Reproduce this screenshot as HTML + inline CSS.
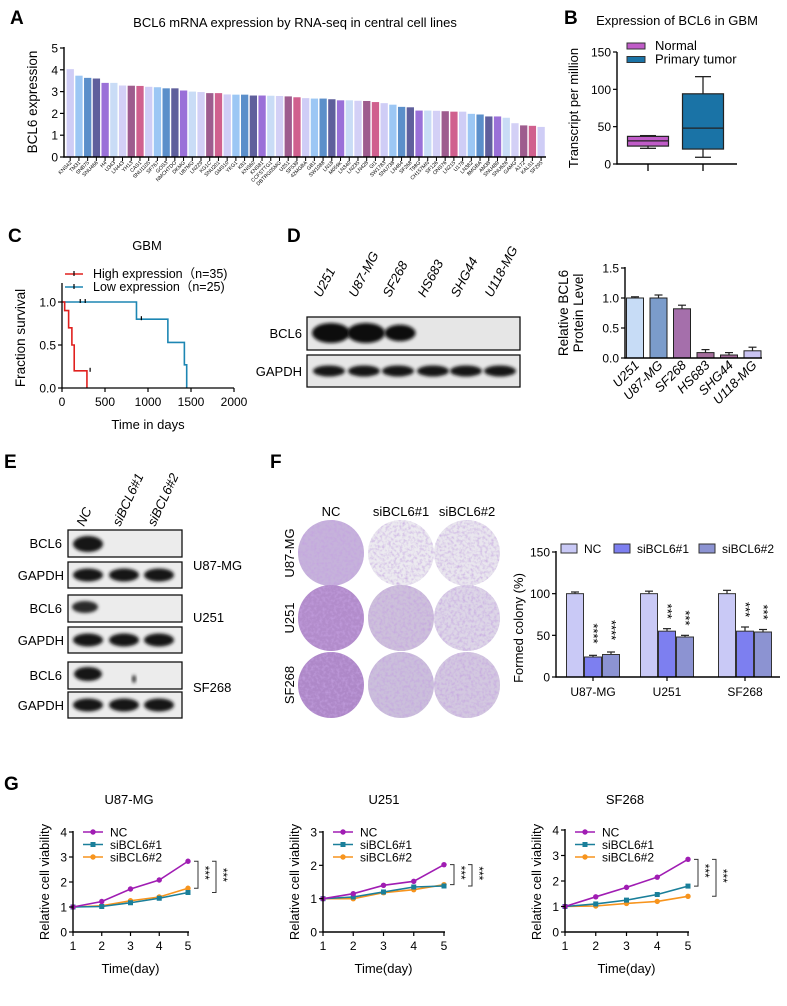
<!DOCTYPE html>
<html><head><meta charset="utf-8"><style>
body{margin:0;background:#fff}
svg{display:block;font-family:"Liberation Sans",Arial,sans-serif}
</style></head><body>
<svg id="fig" width="787" height="1006" viewBox="0 0 787 1006" xmlns="http://www.w3.org/2000/svg">
<defs>
<filter id="blur1" x="-30%" y="-50%" width="160%" height="200%"><feGaussianBlur stdDeviation="1.6"/></filter>
<filter id="tex" x="0" y="0" width="100%" height="100%"><feTurbulence type="fractalNoise" baseFrequency="0.35" numOctaves="2" seed="3" result="n"/><feColorMatrix in="n" type="matrix" values="0 0 0 0 0.55  0 0 0 0 0.35  0 0 0 0 0.75  0 0 0 1.6 -0.65" result="c"/><feComposite in="c" in2="SourceGraphic" operator="in" result="cc"/><feMerge><feMergeNode in="SourceGraphic"/><feMergeNode in="cc"/></feMerge></filter>
</defs>
<g font-weight="bold" font-size="19">
<text x="10" y="24">A</text>
<text x="564" y="24">B</text>
<text x="8" y="242">C</text>
<text x="287" y="242">D</text>
<text x="4" y="468">E</text>
<text x="270" y="468">F</text>
<text x="4" y="790">G</text>
</g>
<text x="295" y="27" font-size="13" text-anchor="middle">BCL6 mRNA  expression by RNA-seq in central cell lines</text>
<text x="677" y="25" font-size="13" text-anchor="middle">Expression of BCL6 in GBM</text>
<text x="147" y="250" font-size="13" text-anchor="middle">GBM</text>
</svg>
<script>
const NS="http://www.w3.org/2000/svg";
const svg=document.getElementById('fig');
function mk(tag,a,p){const e=document.createElementNS(NS,tag);for(const k in a)e.setAttribute(k,a[k]);(p||svg).appendChild(e);return e;}
function tx(x,y,s,size,anchor,extra,p){const a=Object.assign({x:x,y:y,'font-size':size,'text-anchor':anchor||'start'},extra||{});const e=mk('text',a,p);e.textContent=s;return e;}
function ln(x1,y1,x2,y2,w,c,p){return mk('line',{x1:x1,y1:y1,x2:x2,y2:y2,stroke:c||'#000','stroke-width':w||1.3},p);}

/* ---------- Panel A data ---------- */
const aCats=["KNS42","TM31","SNB75","SNU466","H4","U343","LN443","YH13","CAS1","SNU1105","SF767","GOS3","NMCHTDO","DKMG","U87MG","LN229","KG1C","SNU201","GMS10","YKG1","K81","KNS60","KNS81","CCFSTTG1","DBTRG05MG","U251","SF539","42MGBA","GB1","SW1088","LN18","M059K","LN340","LN235","LN428","GI1","SW1783","SNU738","LN464","SF268","T98G","CH157MN","SF126","ONS76","LN215","U178","LN382","8MGBA","AM38","SNU489","SNU626","GAMG","A172","KALS1","SF295"];
const aVals=[4.03,3.73,3.63,3.6,3.4,3.4,3.28,3.27,3.26,3.22,3.2,3.15,3.15,3.05,3.0,2.98,2.93,2.93,2.87,2.86,2.86,2.82,2.82,2.81,2.8,2.78,2.74,2.7,2.68,2.68,2.65,2.6,2.6,2.58,2.57,2.52,2.47,2.4,2.3,2.28,2.13,2.13,2.12,2.1,2.08,2.08,1.98,1.95,1.86,1.86,1.8,1.55,1.45,1.43,1.38];
const aTicks=[0,1,2,3,4,5];
/* ---------- Panel B data ---------- */
const bGroups=["Normal","Primary tumor"];
const bMin=[21,9],bQ1=[24,20],bMed=[31,48],bQ3=[37,94],bMax=[38,117];
const bTicks=[0,50,100,150];
/* ---------- Panel C data ---------- */
const cHighT=[0,31,77,115,142,290],cHighS=[1,0.9,0.7,0.5,0.2,0];
const cLowT=[0,866,1231,1423,1450],cLowS=[1,0.8,0.53,0.27,0];
const cHighCensorT=[327],cHighCensorS=[0.2];
const cLowCensorT=[212,270,923],cLowCensorS=[1,1,0.8];
const cXTicks=[0,500,1000,1500,2000],cYTicks=[0,0.5,1.0];
/* ---------- Panel D data ---------- */
const dCats=["U251","U87-MG","SF268","HS683","SHG44","U118-MG"];
const dVals=[1.0,1.0,0.82,0.09,0.05,0.12];
const dErr=[0.02,0.05,0.06,0.05,0.04,0.06];
const dTicks=[0,0.5,1.0,1.5];
const dBcl6=[1,1,0.8,0,0,0];
/* ---------- Panel F data ---------- */
const fGroups=["U87-MG","U251","SF268"];
const fNC=[100,100,100],fSi1=[24,55,55],fSi2=[27,48,54];
const fNCerr=[2,3,4],fSi1err=[2,3,5],fSi2err=[3,2,3];
const fSig1=["****","***","***"],fSig2=["****","***","***"];
const fTicks=[0,50,100,150];
/* ---------- Panel G data ---------- */
const gDays=[1,2,3,4,5];
const gU87NC=[1,1.22,1.72,2.08,2.83],gU87S1=[1,1.02,1.17,1.35,1.58],gU87S2=[1,1.05,1.25,1.4,1.75];
const gU251NC=[1,1.15,1.4,1.52,2.02],gU251S1=[1,1.05,1.2,1.35,1.38],gU251S2=[1,1.0,1.18,1.27,1.42];
const gSFNC=[1,1.38,1.75,2.15,2.85],gSFS1=[1,1.1,1.25,1.47,1.8],gSFS2=[1,1.02,1.12,1.2,1.4];

/* ===== Panel A ===== */
(function(){
const g=mk('g',{});


const cols=['#cfcdf6','#9cc7f4','#5b8fca','#5f5f9c','#9a70d8','#c9dcf6','#d3d0f6','#9e5c8e','#d0608e'];
const y=v=>157-v*21.8, x=i=>66+i*8.72;
aVals.forEach((v,i)=>{const r=mk('rect',{x:x(i)+0.6,y:y(v),width:7.3,height:157-y(v),fill:cols[i%9]},g);


ln(x(i)+4.2,157,x(i)+4.2,161,1,'#000',g);
const t=tx(x(i)+6,163,aCats[i],5.2,'end',{transform:`rotate(-45 ${x(i)+6} 163)`},g);

});
ln(64,47,64,157.6,1.4,'#000',g);ln(63.3,157,546,157,1.4,'#000',g);
aTicks.forEach(t=>{ln(60,y(t),64,y(t),1.2,'#000',g);const l=tx(58,y(t)+4.5,String(t),12,'end',{},g);

});
const yl=tx(37,102,'BCL6 expression',13.5,'middle',{transform:'rotate(-90 37 102)'},g);


})();

/* ===== Panel B ===== */
(function(){
const g=mk('g',{});


const y=v=>164-v*(112/150);const cx=[648,703];const fills=['#c05cc8','#1a73a6'];
bGroups.forEach((n,i)=>{const w=41,c=cx[i];
ln(c,y(bMax[i]),c,y(bQ3[i]),1.3,'#222',g);ln(c,y(bQ1[i]),c,y(bMin[i]),1.3,'#222',g);
ln(c-8,y(bMax[i]),c+8,y(bMax[i]),1.3,'#222',g);ln(c-8,y(bMin[i]),c+8,y(bMin[i]),1.3,'#222',g);
const b=mk('rect',{x:c-w/2,y:y(bQ3[i]),width:w,height:y(bQ1[i])-y(bQ3[i]),fill:fills[i],stroke:'#222','stroke-width':1.2},g);


ln(c-w/2,y(bMed[i]),c+w/2,y(bMed[i]),1.3,'#222',g);
ln(c,164,c,171,1.3,'#000',g);
const lb=mk('rect',{x:627,y:43+i*13.5,width:18,height:6,fill:fills[i],stroke:'#333','stroke-width':1},g);


const lt=tx(655,50+i*13.5,n,13,'start',{},g);

});
ln(617,52,617,164.6,1.4,'#000',g);ln(616.4,164,737,164,1.4,'#000',g);
bTicks.forEach(t=>{ln(613,y(t),617,y(t),1.2,'#000',g);const l=tx(611,y(t)+4.5,String(t),12,'end',{},g);

});
const yl=tx(578,108,'Transcript per million',13,'middle',{transform:'rotate(-90 578 108)'},g);


})();

/* ===== Panel C ===== */
(function(){
const g=mk('g',{});


const x=t=>62+t*(172/2000), y=s=>388-s*86;
function step(T,S,col,name){let d=`M${x(T[0])},${y(S[0])}`;for(let i=1;i<T.length;i++)d+=` H${x(T[i])} V${y(S[i])}`;
const p=mk('path',{d:d,fill:'none',stroke:col,'stroke-width':1.6},g);

}
step(cLowT,cLowS,'#1d86b3','low-expression-curve');
step(cHighT,cHighS,'#e0201e','high-expression-curve');
cLowCensorT.forEach((t,i)=>ln(x(t),y(cLowCensorS[i])-3,x(t),y(cLowCensorS[i])+1,1.2,'#000',g));
cHighCensorT.forEach((t,i)=>ln(x(t),y(cHighCensorS[i])-3,x(t),y(cHighCensorS[i])+1,1.2,'#000',g));
ln(62,283,62,388.6,1.3,'#000',g);ln(61.4,388,234,388,1.3,'#000',g);
cYTicks.forEach(s=>{ln(58,y(s),62,y(s),1.2,'#000',g);const l=tx(56,y(s)+4.5,s.toFixed(1),12,'end',{},g);

});
cXTicks.forEach(t=>{ln(x(t),388,x(t),392,1.2,'#000',g);const l=tx(x(t),406,String(t),12,'middle',{},g);

});
const xl=tx(148,429,'Time in days',13,'middle',{},g);


const yl=tx(25,338,'Fraction survival',13.5,'middle',{transform:'rotate(-90 25 338)'},g);


[['High expression（n=35)','#e0201e'],['Low expression（n=25)','#1d86b3']].forEach((L,i)=>{const yy=274+i*13;
ln(65,yy,83,yy,1.6,L[1],g);ln(74,yy-3,74,yy+2,1.2,'#000',g);
const t=tx(93,yy+4,L[0],12.5,'start',{},g);

});
})();

/* ===== Panel D blot + bar ===== */
(function(){
const g=mk('g',{});


const lanes=[329,364,398,433,466,500];
const b1=mk('rect',{x:307,y:317,width:213,height:33,fill:'#e6e6e6',stroke:'#111','stroke-width':1.3},g);


const b2=mk('rect',{x:307,y:355,width:213,height:32,fill:'#e6e6e6',stroke:'#111','stroke-width':1.3},g);


dBcl6.forEach((v,i)=>{if(v>0){const e=mk('ellipse',{cx:lanes[i]+2,cy:333,rx:17*v+2,ry:9*v+1,fill:'#111',filter:'url(#blur1)'},g);

}});
lanes.forEach((c,i)=>{const e=mk('ellipse',{cx:c,cy:371,rx:16,ry:5.5,fill:'#141414',filter:'url(#blur1)'},g);


const t=tx(c-8,298,dCats[i],13,'start',{'font-style':'italic',transform:`rotate(-62 ${c-8} 298)`},g);

});
tx(302,338,'BCL6',13,'end',{},g);tx(302,376,'GAPDH',13,'end',{},g);

const h=mk('g',{});


const y=v=>358-v*60, x=i=>635+i*23.5;
const cols=['#c7dcf6','#7b9ccb','#a56fab','#a56e9c','#a56e9c','#c9c3f2'];
dVals.forEach((v,i)=>{ln(x(i),y(v),x(i),y(v+dErr[i]),1.2,'#222',h);ln(x(i)-4,y(v+dErr[i]),x(i)+4,y(v+dErr[i]),1.2,'#222',h);
const r=mk('rect',{x:x(i)-8.5,y:y(v),width:17,height:358-y(v),fill:cols[i],stroke:'#222','stroke-width':1},h);


const t=tx(x(i)+5,366,dCats[i],13,'end',{'font-style':'italic',transform:`rotate(-45 ${x(i)+5} 366)`},h);

});
ln(625,267,625,358.6,1.4,'#000',h);ln(624.4,358,762,358,1.4,'#000',h);
dTicks.forEach(t=>{ln(621,y(t),625,y(t),1.2,'#000',h);const l=tx(619,y(t)+4.5,t.toFixed(1),12,'end',{},h);

});
const y1=tx(568,313,'Relative BCL6',13.5,'middle',{transform:'rotate(-90 568 313)'},h);


tx(583,313,'Protein Level',13.5,'middle',{transform:'rotate(-90 583 313)'},h);
})();

/* ===== Panel E ===== */
(function(){
const g=mk('g',{});


const lanes=[88,124,159];
[['NC',88],['siBCL6#1',124],['siBCL6#2',159]].forEach(L=>{const t=tx(L[1]-4,527,L[0],13,'start',{'font-style':'italic',transform:`rotate(-65 ${L[1]-4} 527)`},g);

});
const rows=[[530,562,'U87-MG',570],[595,627,'U251',622],[662,692,'SF268',692]];
rows.forEach(r=>{const a=mk('rect',{x:68,y:r[0],width:114,height:27,fill:'#ececec',stroke:'#111','stroke-width':1.3},g);


const b=mk('rect',{x:68,y:r[1],width:114,height:26,fill:'#ececec',stroke:'#111','stroke-width':1.3},g);


lanes.forEach(c=>mk('ellipse',{cx:c,cy:r[1]+13,rx:15,ry:6.5,fill:'#141414',filter:'url(#blur1)'},g));
tx(62,r[0]+18,'BCL6',13,'end',{},g);tx(64,r[1]+18,'GAPDH',13,'end',{},g);
const l=tx(193,r[3],r[2],13,'start',{},g);

});
mk('ellipse',{cx:88,cy:544,rx:15,ry:8,fill:'#151515',filter:'url(#blur1)'},g);
mk('ellipse',{cx:85,cy:607,rx:13,ry:6,fill:'#2a2a2a',filter:'url(#blur1)'},g);
mk('ellipse',{cx:88,cy:674,rx:14,ry:7,fill:'#151515',filter:'url(#blur1)'},g);
mk('ellipse',{cx:134,cy:679,rx:2,ry:4,fill:'#333',filter:'url(#blur1)'},g);
})();

/* ===== Panel F ===== */
(function(){
const g=mk('g',{});


const cx=[331,401,467],cy=[553,618,685];
const fills=[['#c6b2db','#eceaf0','#e9e6ee'],['#b28ccb','#cdc0db','#ddd6e7'],['#ae88c8','#cbbfdb','#d3c8e0']];
cy.forEach((y,r)=>cx.forEach((x,c)=>{const p=mk('ellipse',{cx:x,cy:y,rx:33,ry:33,fill:fills[r][c],filter:'url(#tex)'},g);

}));
[['NC',331],['siBCL6#1',401],['siBCL6#2',467]].forEach(L=>tx(L[1],516,L[0],13,'middle',{},g));
[['U87-MG',553],['U251',618],['SF268',685]].forEach(L=>{const t=tx(294,L[1],L[0],13,'middle',{transform:`rotate(-90 294 ${L[1]})`},g);

});

const h=mk('g',{});


const y=v=>677-v*(125/150);const gx=[593,667,745];
const series=[[fNC,fNCerr,'#c9c9f6',-18,null],[fSi1,fSi1err,'#7d7ff0',0,fSig1],[fSi2,fSi2err,'#8c93d2',18,fSig2]];
fGroups.forEach((gn,i)=>{series.forEach((s,k)=>{const xc=gx[i]+s[3],v=s[0][i],e=s[1][i];
ln(xc,y(v),xc,y(v+e),1.2,'#222',h);ln(xc-4,y(v+e),xc+4,y(v+e),1.2,'#222',h);
const r=mk('rect',{x:xc-8.5,y:y(v),width:17,height:677-y(v),fill:s[2],stroke:'#333','stroke-width':1},h);


if(s[4]){const t=tx(xc-4,y(v+e)-4,s[4][i],13,'start',{transform:`rotate(90 ${xc-4} ${y(v+e)-4})`},h);


t.setAttribute('transform',`rotate(90 ${xc-4} ${y(v+e)-4}) translate(${-(s[4][i].length*7)} 0)`);}});
ln(gx[i],677,gx[i],681,1.2,'#000',h);
const l=tx(gx[i],696,gn,12,'middle',{},h);

});
ln(556,551,556,677.6,1.4,'#000',h);ln(555.4,677,780,677,1.4,'#000',h);
fTicks.forEach(t=>{ln(552,y(t),556,y(t),1.2,'#000',h);const l=tx(550,y(t)+4.5,String(t),12,'end',{},h);

});
const yl=tx(523,628,'Formed colony (%)',13,'middle',{transform:'rotate(-90 523 628)'},h);


[['NC',561,'#c9c9f6'],['siBCL6#1',614,'#7d7ff0'],['siBCL6#2',699,'#8c93d2']].forEach(L=>{mk('rect',{x:L[1],y:544,width:16,height:9,fill:L[2],stroke:'#333','stroke-width':1},h);
const t=tx(L[1]+23,553,L[0],12,'start',{},h);

});
})();

/* ===== Panel G ===== */
function gChart(name,title,x0,x5,yTop,ymax,nc,s1,s2,titleX){
const g=mk('g',{});


const y0=932, y=v=>y0-v*(y0-yTop)/ymax, x=d=>x0+(d-1)*(x5-x0)/4;
const t=tx(titleX,804,title,13,'middle',{},g);


const ser=[[s2,'#f7941d','siBCL6#2','tri'],[s1,'#1a7f9a','siBCL6#1','sq'],[nc,'#a01db3','NC','dot']];
ser.forEach(s=>{const pts=gDays.map((d,i)=>x(d)+','+y(s[0][i])).join(' ');
const p=mk('polyline',{points:pts,fill:'none',stroke:s[1],'stroke-width':1.6},g);


gDays.forEach((d,i)=>{const m=s[3]==='sq'?mk('rect',{x:x(d)-2.5,y:y(s[0][i])-2.5,width:5,height:5,fill:s[1]},g):mk('circle',{cx:x(d),cy:y(s[0][i]),r:2.7,fill:s[1]},g);

});});
ln(x0,yTop-1,x0,y0+0.6,1.4,'#000',g);ln(x0-0.6,y0,x5+1,y0,1.4,'#000',g);
for(let v=0;v<=ymax;v++){ln(x0-4,y(v),x0,y(v),1.2,'#000',g);const l=tx(x0-6,y(v)+4.5,String(v),12,'end',{},g);

}
gDays.forEach(d=>{ln(x(d),y0,x(d),y0+4,1.2,'#000',g);const l=tx(x(d),y0+18,String(d),12,'middle',{},g);

});
const xl=tx((x0+x5)/2,y0+41,'Time(day)',13,'middle',{},g);


const yl=tx(x0-24,882,'Relative cell viability',13,'middle',{transform:`rotate(-90 ${x0-24} 882)`},g);


[['NC','#a01db3','dot'],['siBCL6#1','#1a7f9a','sq'],['siBCL6#2','#f7941d','tri']].forEach((L,i)=>{const yy=832+i*12.5,lx=x0+10;
ln(lx,yy,lx+20,yy,1.6,L[1],g);
if(L[2]==='sq')mk('rect',{x:lx+7.5,y:yy-2.5,width:5,height:5,fill:L[1]},g);else mk('circle',{cx:lx+10,cy:yy,r:2.7,fill:L[1]},g);
const t=tx(lx+27,yy+4.5,L[0],12,'start',{},g);

});
const yN=y(nc[4]),yA=y(Math.max(s1[4],s2[4])),yB=y(Math.min(s1[4],s2[4]));
const bx=x5+6;
mk('path',{d:`M${bx},${yN} H${bx+4} V${yA} H${bx}`,fill:'none',stroke:'#333','stroke-width':1},g);
mk('path',{d:`M${bx+18},${yN} H${bx+22} V${yB} H${bx+18}`,fill:'none',stroke:'#333','stroke-width':1},g);
const s1t=tx(bx+7,(yN+yA)/2-9,'***',12,'start',{transform:`rotate(90 ${bx+7} ${(yN+yA)/2-9})`},g);


const s2t=tx(bx+25,(yN+yB)/2-9,'***',12,'start',{transform:`rotate(90 ${bx+25} ${(yN+yB)/2-9})`},g);


}
gChart('viability-chart-u87mg','U87-MG',73,188,832,4,gU87NC,gU87S1,gU87S2,129);
gChart('viability-chart-u251','U251',323,444,832,3,gU251NC,gU251S1,gU251S2,384);
gChart('viability-chart-sf268','SF268',565,688,830,4,gSFNC,gSFS1,gSFS2,625);
</script>
</body></html>
